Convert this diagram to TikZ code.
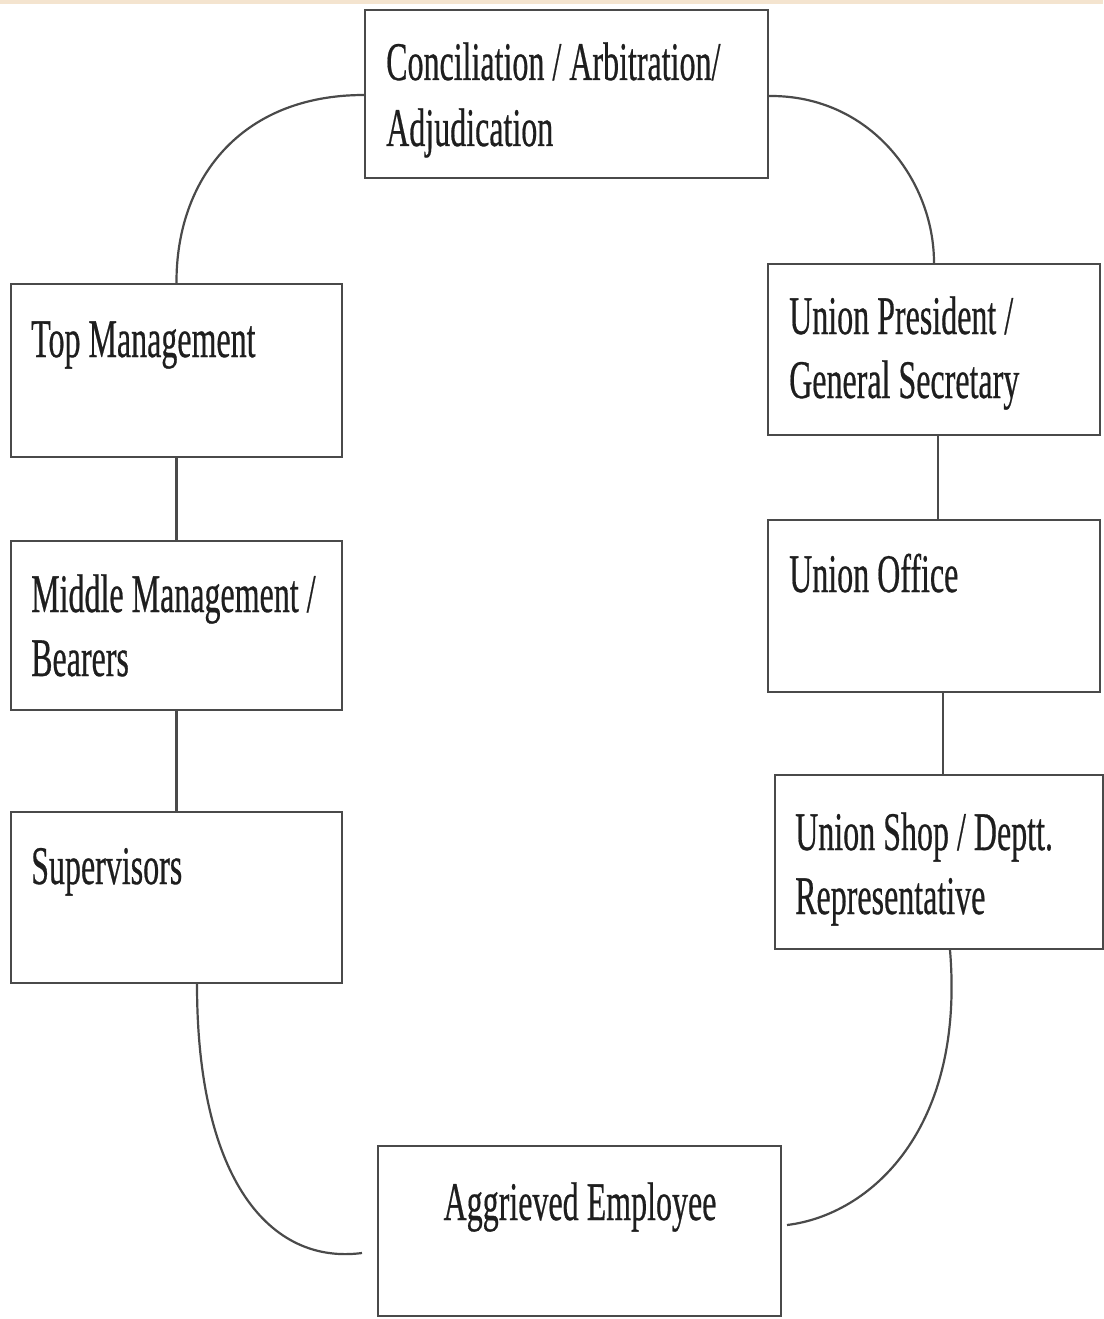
\documentclass[tikz,border=0pt]{standalone}
\usepackage{fontspec}
\setmainfont{Liberation Serif}[FakeBold=0.6]
\newcommand{\sx}[1]{\scalebox{1}[1.7]{#1}}
\definecolor{boxgray}{HTML}{4A4A4A}
\definecolor{txtgray}{HTML}{1E1E1E}
\definecolor{topstrip}{HTML}{F4E4CF}
\tikzset{
  box/.style={draw=boxgray, line width=2.2pt, fill=white, inner sep=0pt},
  txt/.style={anchor=base west, inner sep=0pt, text=txtgray, font=\fontsize{32}{32}\selectfont},
  txtc/.style={anchor=base, inner sep=0pt, text=txtgray, font=\fontsize{32}{32}\selectfont},
  link/.style={draw=boxgray, line width=2.2pt}
}
\begin{document}
\begin{tikzpicture}[x=1pt,y=-1pt]
\useasboundingbox (0,0) rectangle (1103,1319);
\fill[white] (0,0) rectangle (1103,1319);
\fill[topstrip] (0,0) rectangle (1103,4);
% boxes
\node[box, minimum width=403pt, minimum height=168pt] (con) at (566.5,94) {};
\node[box, minimum width=331pt, minimum height=173pt] (top) at (176.5,370.5) {};
\node[box, minimum width=331pt, minimum height=169pt] (mid) at (176.5,625.5) {};
\node[box, minimum width=331pt, minimum height=171pt] (sup) at (176.5,897.5) {};
\node[box, minimum width=332pt, minimum height=171pt] (pres) at (934,349.5) {};
\node[box, minimum width=332pt, minimum height=172pt] (off) at (934,606) {};
\node[box, minimum width=328pt, minimum height=174pt] (shop) at (939,862) {};
\node[box, minimum width=403pt, minimum height=170pt] (agg) at (579.5,1231) {};
% texts
\node[txt] (con1) at (386,80) {\sx{Conciliation / Arbitration/}};
\node[txt] (con2) at (386,146) {\sx{Adjudication}};
\node[txt] (top1) at (31,357) {\sx{Top Management}};
\node[txt] (mid1) at (31,612) {\sx{Middle Management /}};
\node[txt] (mid2) at (31,676) {\sx{Bearers}};
\node[txt] (sup1) at (31,884) {\sx{Supervisors}};
\node[txt] (pres1) at (789,334) {\sx{Union President /}};
\node[txt] (pres2) at (789,398) {\sx{General Secretary}};
\node[txt] (off1) at (789,592) {\sx{Union Office}};
\node[txt] (shop1) at (795,850) {\sx{Union Shop / Deptt.}};
\node[txt] (shop2) at (795,914) {\sx{Representative}};
\node[txtc] (agg1) at (580,1220) {\sx{Aggrieved Employee}};
% connector free ends
\coordinate (aggL) at (362,1253);
\coordinate (aggR) at (787,1225);
% connectors
\draw[link] ([yshift=-1pt]con.west) .. controls (240,95) and (176,180) .. (top.north);
\draw[link] ([yshift=-2pt]con.east) .. controls (870,95) and (934,180) .. (pres.north);
\draw[link] (top.south) -- (mid.north);
\draw[link] (mid.south) -- (sup.north);
\draw[link] ([xshift=4pt]pres.south) -- ([xshift=4pt]off.north);
\draw[link] ([xshift=9pt]off.south) -- ([xshift=4pt]shop.north);
\draw[link] ([xshift=20.5pt]sup.south) .. controls (197,1180) and (270,1265) .. (aggL);
\draw[link] ([xshift=11pt]shop.south) .. controls (965,1130) and (870,1215) .. (aggR);
\end{tikzpicture}
\end{document}
